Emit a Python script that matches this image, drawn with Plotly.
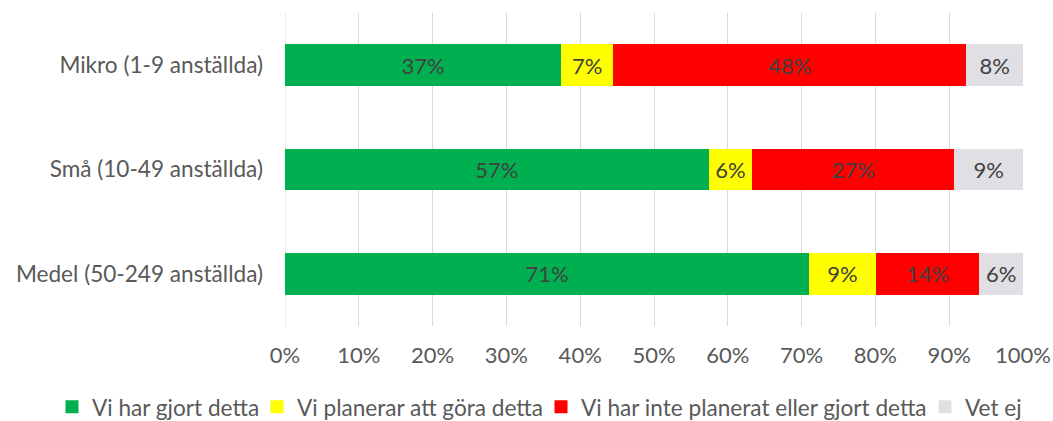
import plotly.graph_objects as go

categories = ["Mikro (1-9 anställda)", "Små (10-49 anställda)", "Medel (50-249 anställda)"]
series_names = ["Vi har gjort detta", "Vi planerar att göra detta",
                "Vi har inte planerat eller gjort detta", "Vet ej"]
gjort = [37.4, 57.4, 71.0]
planerar = [7.1, 5.9, 9.1]
inte = [47.8, 27.4, 14.0]
vet_ej = [7.7, 9.3, 5.9]
colors = ["#00B050", "#FFFF00", "#FF0000", "#E0DFE3"]
tick_vals = [0, 10, 20, 30, 40, 50, 60, 70, 80, 90, 100]
tick_text = [f"{v}%" for v in tick_vals]

FONT = "Lato"
TXT = "#595959"
FS = 22
W, H = 1053, 421

# legend left edges (pixels) for each series
legend_left_px = [52, 257, 541, 925]

fig = go.Figure()
for i, (name, vals, col) in enumerate(zip(series_names, [gjort, planerar, inte, vet_ej], colors)):
    lg = "legend" if i == 0 else f"legend{i + 1}"
    fig.add_trace(go.Bar(
        y=categories, x=vals, orientation="h", name=name,
        marker=dict(color=col, line=dict(width=0)),
        text=vals, texttemplate="%{x:.0f}%", textposition="inside",
        insidetextanchor="middle", constraintext="none",
        textfont=dict(family=FONT, size=FS, color="#404040"),
        showlegend=False, hoverinfo="skip",
    ))
    fig.add_trace(go.Scatter(
        x=[None], y=[None], mode="markers", name=name,
        marker=dict(symbol="square", size=13, color=col),
        showlegend=True, legend=lg,
    ))

legend_common = dict(orientation="h", xref="container", yref="container",
                     xanchor="left", y=0.033, yanchor="middle",
                     font=dict(family=FONT, size=22.6, color=TXT),
                     itemwidth=30, bgcolor="rgba(0,0,0,0)", borderwidth=0)

layout_legends = {}
for i, px in enumerate(legend_left_px):
    key = "legend" if i == 0 else f"legend{i + 1}"
    layout_legends[key] = dict(legend_common, x=px / W)

fig.update_layout(
    barmode="stack",
    bargap=0.6,
    width=W, height=H,
    margin=dict(l=285, r=30, t=13, b=95, autoexpand=False),
    paper_bgcolor="white", plot_bgcolor="white",
    font=dict(family=FONT, size=FS, color=TXT),
    xaxis=dict(range=[0, 100], tickvals=tick_vals, ticktext=tick_text,
               showgrid=True, gridcolor="#D9D9D9", gridwidth=1,
               zeroline=False, showline=False, ticks="", automargin=False,
               ticklabelstandoff=14, fixedrange=True,
               tickfont=dict(family=FONT, size=FS, color=TXT)),
    yaxis=dict(categoryorder="array", categoryarray=categories,
               autorange="reversed", showgrid=False, zeroline=False,
               showline=False, ticks="", automargin=False,
               ticklabelstandoff=21, fixedrange=True,
               tickfont=dict(family=FONT, size=22.6, color=TXT)),
    showlegend=True,
    **layout_legends,
)
fig.add_shape(type="line", xref="x", yref="paper", x0=0, x1=0, y0=0, y1=1,
              line=dict(color="#D9D9D9", width=1), layer="below")

fig.write_html("out.html",
               config={"displayModeBar": False},
               post_script="document.body.style.margin='0';document.body.style.overflow='hidden';")
